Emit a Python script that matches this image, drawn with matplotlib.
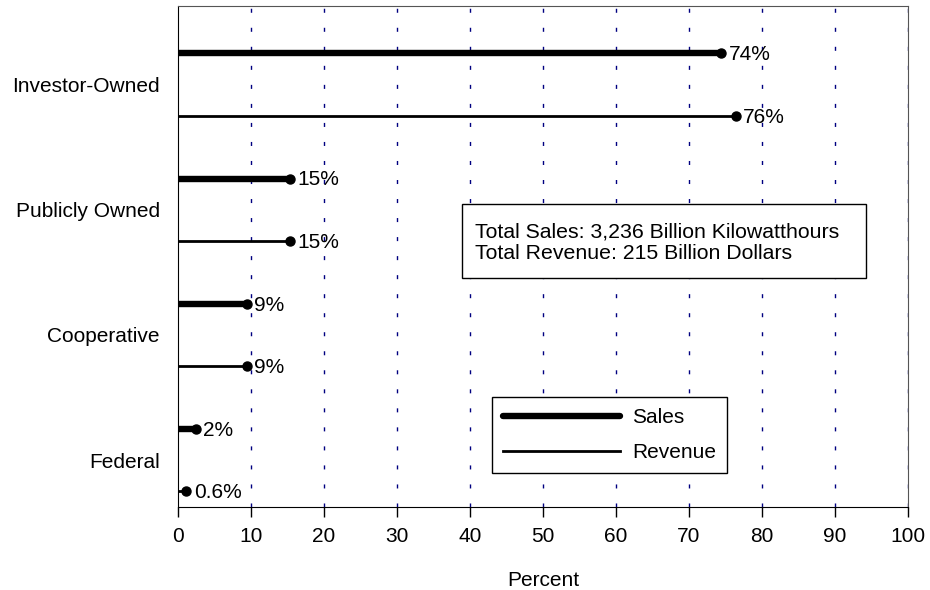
import matplotlib.pyplot as plt
from matplotlib.lines import Line2D
from matplotlib.patches import Rectangle

plt.rcParams['font.family'] = ['Liberation Sans', 'DejaVu Sans']

# data
categories = ['Investor-Owned', 'Publicly Owned', 'Cooperative', 'Federal']
sales = [74.4, 15.3, 9.4, 2.4]
revenue = [76.4, 15.3, 9.4, 1.1]
sales_labels = ['74%', '15%', '9%', '2%']
revenue_labels = ['76%', '15%', '9%', '0.6%']
note_lines = ['Total Sales: 3,236 Billion Kilowatthours', 'Total Revenue: 215 Billion Dollars']

fs = 15

fig = plt.figure(figsize=(9.3, 5.9), dpi=100)
ax = fig.add_axes([0.1914, 0.1407, 0.7849, 0.8492])

off = 0.25
for i in range(len(categories)):
    ys = i - off
    yr = i + off
    ax.plot([0, sales[i]], [ys, ys], color='black', lw=4.6, solid_capstyle='butt', clip_on=False, zorder=3)
    ax.plot([sales[i]], [ys], 'o', color='black', ms=6.5, clip_on=False, zorder=4)
    ax.annotate(sales_labels[i], (sales[i], ys), xytext=(5.5, -1), textcoords='offset points',
                va='center', ha='left', fontsize=fs)
    ax.plot([0, revenue[i]], [yr, yr], color='black', lw=2.0, solid_capstyle='butt', clip_on=False, zorder=3)
    ax.plot([revenue[i]], [yr], 'o', color='black', ms=6.5, clip_on=False, zorder=4)
    ax.annotate(revenue_labels[i], (revenue[i], yr), xytext=(5.5, -1), textcoords='offset points',
                va='center', ha='left', fontsize=fs)

ax.set_xlim(0, 100)
ax.set_ylim(3.375, -0.63)
ax.set_xticks(range(0, 101, 10))
ax.set_yticks(range(len(categories)))
ax.set_yticklabels(categories)
ax.tick_params(axis='y', length=0, pad=13, labelsize=fs)
ax.tick_params(axis='x', direction='out', length=7, width=1, pad=7.5, labelsize=fs)

for x in range(10, 101, 10):
    ax.axvline(x, color='#000080', lw=1, linestyle=(0, (2.9, 10.8)), zorder=1)

ax.set_xlabel('Percent', fontsize=fs, labelpad=18)

for s in ['left', 'bottom']:
    ax.spines[s].set_color('black')
for s in ['top', 'right']:
    ax.spines[s].set_color('#555555')

# note box
ax.add_patch(Rectangle((0.389, 0.4571), 0.5535, 0.1477, transform=ax.transAxes,
                       facecolor='white', edgecolor='black', lw=1, zorder=5))
ax.text(0.4069, 0.5383, note_lines[0], transform=ax.transAxes, fontsize=15.3,
        va='baseline', ha='left', zorder=6)
ax.text(0.4069, 0.495, note_lines[1], transform=ax.transAxes, fontsize=15.3,
        va='baseline', ha='left', zorder=6)

handles = [Line2D([], [], color='black', lw=4.6, solid_capstyle='round'),
           Line2D([], [], color='black', lw=2.0)]
leg = ax.legend(handles, ['Sales', 'Revenue'], loc='upper left', bbox_to_anchor=(0.430, 0.2196),
                borderaxespad=0, fancybox=False, fontsize=fs, handlelength=5.6,
                handletextpad=0.6, labelspacing=0.78, borderpad=0.53, framealpha=1)
leg.get_frame().set_edgecolor('black')
leg.get_frame().set_linewidth(1)

fig.savefig('out.png', dpi=100)
